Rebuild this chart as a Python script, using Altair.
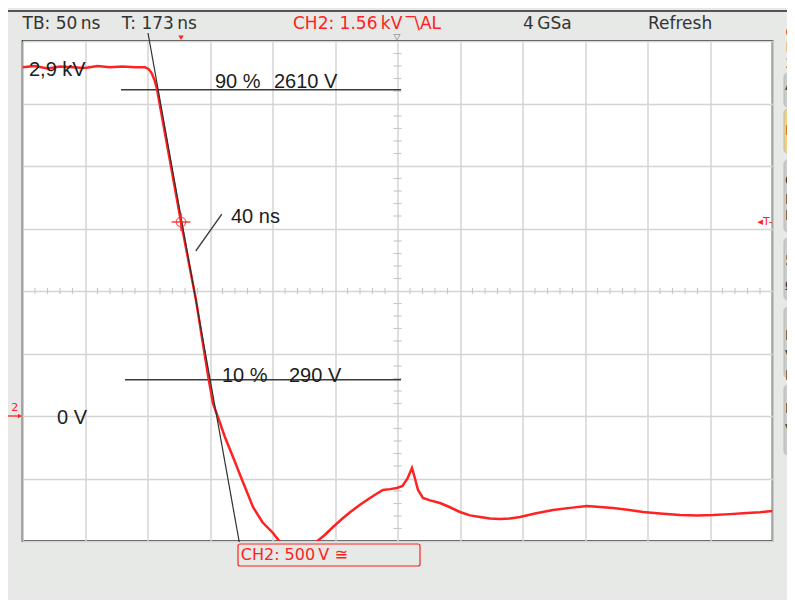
import altair as alt
import pandas as pd

# ---- waveform (CH2), time in ns, voltage in V ----
time_ns = [0, 10, 20, 30, 40, 50, 60, 70, 80, 90, 98, 101, 103.5, 105.5, 107.6, 112, 118,
           126.8, 133, 138.8, 144, 149, 152.4, 156.6, 162, 168.4, 176, 184.4, 192, 200.4,
           206, 212, 220, 228, 236, 242, 248.4, 256, 262, 270, 275.6, 282, 288.4, 294,
           299.6, 304, 308, 311.6, 314, 316.4, 320.4, 326, 334, 342, 350, 358, 366, 374,
           382, 390, 398, 410, 424.4, 438, 451.6, 462, 472.4, 484, 496.4, 510, 526, 540,
           552.4, 566, 579.6, 590, 600]
volts = [2790, 2800, 2780, 2795, 2790, 2785, 2800, 2790, 2795, 2790, 2790, 2775, 2740, 2690,
         2616, 2370, 2040, 1552, 1230, 928, 600, 290, 100, -16, -170, -328, -520, -728, -850,
         -936, -1008, -1060, -1090, -1070, -1000, -950, -888, -820, -770, -710, -672, -630,
         -592, -585, -576, -560, -500, -416, -500, -592, -656, -675, -696, -730, -768, -795,
         -808, -820, -824, -820, -808, -780, -752, -735, -720, -728, -736, -750, -768, -780,
         -792, -795, -792, -785, -776, -770, -760]

# tangent (fall-time construction)
tangent_t = [100.4, 173.4]
tangent_v = [3064, -1008]

# 90 % / 10 % reference levels
level_v = [2610, 290]
level_t0 = [78.8, 82.0]
level_t1 = [302.8, 302.8]

# pointer to "40 ns"
pointer_t = [138.6, 159.4]
pointer_v = [1320, 1614]

# annotations
ann_labels = ["2,9 kV", "90 %", "2610 V", "40 ns", "10 %", "290 V", "0 V"]
ann_t = [5.2, 154.0, 201.2, 166.8, 159.6, 213.2, 27.6]
ann_v = [2720, 2624, 2624, 1548, 272, 272, -64]

# header texts
head_labels = ["TB: 50\u2009ns", "T: 173\u2009ns", "4\u2009GSa", "Refresh"]
head_t = [0.0, 79.4, 400.4, 500.4]
head_red = "CH2: 1.56\u2009kV\u2009\u203e\\AL"

trigger_t = 126.8
trigger_v = 1552

# grid
grid_t = [i * 50 for i in range(13)]
grid_v = [-1000 + i * 500 for i in range(9)]
minor_t = [i * 10 for i in range(61) if i % 5]
minor_v = [-1000 + i * 100 for i in range(41) if i % 5]

RED = "#ff2222"
BG = "#e6e9e5"
xs = alt.Scale(domain=[0, 600], nice=False, zero=False)
ys = alt.Scale(domain=[-1000, 3000], nice=False, zero=False)
ax_x = alt.Axis(values=grid_t, grid=True, labels=False, ticks=False, domain=False, title=None,
                gridColor="#d4d4d4", gridWidth=1.5)
ax_y = alt.Axis(values=grid_v, grid=True, labels=False, ticks=False, domain=False, title=None,
                gridColor="#d4d4d4", gridWidth=1.5)


def X(f="t"):
    return alt.X(f"{f}:Q", scale=xs, axis=ax_x)


def Y(f="v"):
    return alt.Y(f"{f}:Q", scale=ys, axis=ax_y)


sig = pd.DataFrame({"t": time_ns, "v": volts})
signal = alt.Chart(sig).mark_line(color=RED, strokeWidth=2.5, clip=True).encode(
    x=X(), y=Y(), order="t:Q")

# minor ticks on centre lines
mt = pd.DataFrame({"t": minor_t, "v": [1000 - 24] * len(minor_t), "v2": [1000 + 24] * len(minor_t)})
minor_x = alt.Chart(mt).mark_rule(color="#c8c8c8", strokeWidth=1.2).encode(
    x=X(), y=Y(), y2="v2:Q")
mv = pd.DataFrame({"v": minor_v, "t": [300 - 3.2] * len(minor_v), "t2": [300 + 3.2] * len(minor_v)})
minor_y = alt.Chart(mv).mark_rule(color="#c8c8c8", strokeWidth=1.2).encode(
    x=X(), x2="t2:Q", y=Y())

lev = pd.DataFrame({"t": level_t0, "t2": level_t1, "v": level_v})
levels = alt.Chart(lev).mark_rule(color="#3a3a3a", strokeWidth=1.4).encode(
    x=X(), x2="t2:Q", y=Y())

tan = pd.DataFrame({"t": tangent_t, "v": tangent_v})
tangent = alt.Chart(tan).mark_line(color="#303030", strokeWidth=1.2).encode(x=X(), y=Y())

ptr = pd.DataFrame({"t": pointer_t, "v": pointer_v})
pointer = alt.Chart(ptr).mark_line(color="#404040", strokeWidth=1.3).encode(x=X(), y=Y())

ann = pd.DataFrame({"t": ann_t, "v": ann_v, "label": ann_labels})
annotations = alt.Chart(ann).mark_text(font="Liberation Sans", fontSize=20, color="#1c1c1c",
                                       align="left", baseline="alphabetic").encode(
    x=X(), y=Y(), text="label:N")

# trigger crosshair
tp = pd.DataFrame({"t": [trigger_t], "v": [trigger_v]})
cross_c = alt.Chart(tp).mark_point(shape="circle", size=90, color=RED, strokeWidth=1.3, filled=False).encode(
    x=X(), y=Y())
ch = pd.DataFrame({"t": [trigger_t - 7.5], "t2": [trigger_t + 7.5], "v": [trigger_v]})
cross_h = alt.Chart(ch).mark_rule(color=RED, strokeWidth=1.3).encode(x=X(), x2="t2:Q", y=Y())
cv = pd.DataFrame({"t": [trigger_t], "v": [trigger_v - 72], "v2": [trigger_v + 72]})
cross_v = alt.Chart(cv).mark_rule(color=RED, strokeWidth=1.3).encode(x=X(), y=Y(), y2="v2:Q")

# header
hd = pd.DataFrame({"t": head_t, "v": [3136] * len(head_t), "label": head_labels})
header = alt.Chart(hd).mark_text(font="DejaVu Sans", fontSize=17, color="#333333",
                                 align="left", baseline="middle").encode(x=X(), y=Y(), text="label:N")
hr = pd.DataFrame({"t": [216.4], "v": [3136], "label": [head_red]})
header_red = alt.Chart(hr).mark_text(font="DejaVu Sans", fontSize=17, color=RED,
                                     align="left", baseline="middle").encode(x=X(), y=Y(), text="label:N")
hl = pd.DataFrame({"t": [-12], "t2": [640], "v": [3240]})
header_line = alt.Chart(hl).mark_rule(color="#222222", strokeWidth=1.5).encode(x=X(), x2="t2:Q", y=Y())

trig_mark = alt.Chart(pd.DataFrame({"t": [trigger_t], "v": [3026]})).mark_point(
    shape="triangle-down", size=28, color=RED, filled=True, opacity=1).encode(x=X(), y=Y())
centre_mark = alt.Chart(pd.DataFrame({"t": [299.6], "v": [3030]})).mark_point(
    shape="triangle-down", size=40, color="#888888", filled=False, strokeWidth=1).encode(x=X(), y=Y())

# channel-2 ground marker at left
gm = pd.DataFrame({"t": [-11.6], "t2": [-2.5], "v": [0]})
gnd_line = alt.Chart(gm).mark_rule(color=RED, strokeWidth=1.3).encode(x=X(), x2="t2:Q", y=Y())
gnd_arrow = alt.Chart(pd.DataFrame({"t": [-2.0], "v": [0]})).mark_point(
    shape="triangle-right", size=22, color=RED, filled=True, opacity=1).encode(x=X(), y=Y())
gnd_text = alt.Chart(pd.DataFrame({"t": [-9.0], "v": [40], "label": ["2"]})).mark_text(
    font="DejaVu Sans", fontSize=11, color=RED, align="left", baseline="alphabetic").encode(
    x=X(), y=Y(), text="label:N")

# trigger level marker at right
tr_text = alt.Chart(pd.DataFrame({"t": [588.0], "v": [1552], "label": ["\u25c2T-"]})).mark_text(
    font="DejaVu Sans", fontSize=11, color=RED, align="left", baseline="middle").encode(
    x=X(), y=Y(), text="label:N")

# channel scale box at bottom
box = alt.Chart(pd.DataFrame({"t": [172.4], "t2": [318.0], "v": [-1024], "v2": [-1200]})).mark_rect(
    fill=BG, stroke=RED, strokeWidth=1.2, cornerRadius=2).encode(x=X(), x2="t2:Q", y=Y(), y2="v2:Q")
box_text = alt.Chart(pd.DataFrame({"t": [174.6], "v": [-1112], "label": ["CH2: 500\u2009V \u2245"]})).mark_text(
    font="DejaVu Sans", fontSize=16, color=RED, align="left", baseline="middle").encode(
    x=X(), y=Y(), text="label:N")

# right-hand soft-key panel
btn_v0 = [2744, 2456, 2048, 1424, 872, 248]
btn_v1 = [2472, 2104, 1472, 928, 304, -312]
btn_fill = ["#c9ccc9", "#f2cf78", "#c9ccc9", "#c9ccc9", "#c9ccc9", "#c9ccc9"]
bt = pd.DataFrame({"t": [609.2] * 6, "t2": [660] * 6, "v": btn_v0, "v2": btn_v1, "f": btn_fill})
buttons = alt.Chart(bt).mark_rect(cornerRadius=4, stroke="#b8bbb8", strokeWidth=1).encode(
    x=X(), x2="t2:Q", y=Y(), y2="v2:Q", fill=alt.Fill("f:N", scale=None))
key_labels = ["A", "D", "C", "N", "D", "5", "\u03a9", "E", "V", "L", "M", "V"]
key_v = [2640, 2280, 1880, 1730, 1600, 1240, 1040, 640, 480, 320, 60, -110]
key_c = ["#333333", "#9a5a00"] + ["#333333"] * 10
kt = pd.DataFrame({"t": [610.0] * len(key_labels), "v": key_v, "label": key_labels, "c": key_c})
keys = alt.Chart(kt).mark_text(font="DejaVu Sans", fontSize=14, align="left", baseline="middle").encode(
    x=X(), y=Y(), text="label:N", color=alt.Color("c:N", scale=None))
top_red = alt.Chart(pd.DataFrame({"t": [610.4] * 3, "v": [3064, 2944, 2816], "label": ["C", "H", "2"]})).mark_text(
    font="DejaVu Sans", fontSize=14, color=RED, align="left", baseline="middle").encode(
    x=X(), y=Y(), text="label:N")

chart = alt.layer(
    minor_x, minor_y, levels, signal, tangent, pointer, annotations,
    cross_c, cross_h, cross_v, header_line, header, header_red, trig_mark, centre_mark,
    gnd_line, gnd_arrow, gnd_text, tr_text, box, box_text, buttons, keys, top_red
).properties(
    width=750, height=500,
    padding={"left": 14.5, "top": 33, "right": 14.5, "bottom": 59},
    autosize=alt.AutoSizeParams(type="none"),
    background=BG,
).configure_view(
    fill="white", stroke="#111111", strokeWidth=1.6
)

chart.save("out.html", embed_options={"renderer": "svg", "actions": False})
